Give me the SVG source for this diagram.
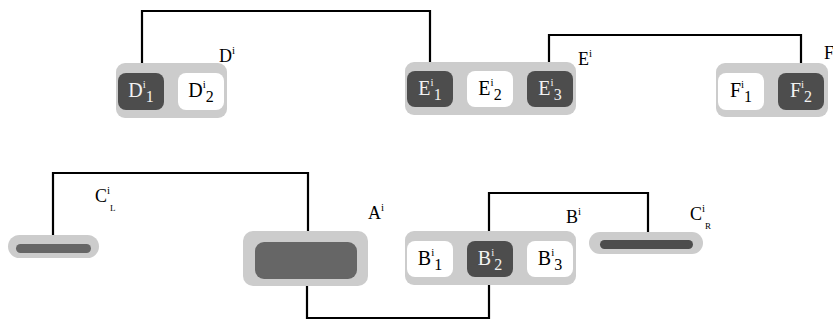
<svg xmlns="http://www.w3.org/2000/svg" width="833" height="320" viewBox="0 0 833 320">
<style>
.outer{fill:#cccccc}
.dark{fill:#4d4d4d}
.white{fill:#ffffff}
.mid{fill:#666666}
text{font-family:"Liberation Serif","Times New Roman",serif;font-size:18px;fill:#000}
.in{font-size:20px}
.lt{fill:#f2f2f2}
.ctr{text-anchor:middle}
.sup{font-size:11px}
.sub{font-size:16px}
.subs{font-size:9px}
.conn{fill:none;stroke:#000;stroke-width:2.2}
</style>
<rect width="833" height="320" fill="#fff"/>
<g id="connectors">
<path class="conn" d="M142 72 V11 H430 V72"/>
<path class="conn" d="M549 74 V35 H801 V75"/>
<path class="conn" d="M53 237 V173 H308 V242"/>
<path class="conn" d="M307 279 V318 H489 V268"/>
<path class="conn" d="M489 238 V193 H648 V241"/>
</g>
<g id="D">
<rect class="outer" x="116" y="63" width="111" height="55" rx="9"/>
<g id="D1"><rect class="dark" x="118" y="73" width="46" height="37" rx="8"/>
<text class="in ctr lt" x="141" y="97">D<tspan class="sup" dy="-9">i</tspan><tspan class="sub" dy="14">1</tspan></text></g>
<g id="D2"><rect class="white" x="178" y="73" width="46" height="37" rx="8"/>
<text class="in ctr" x="201" y="97">D<tspan class="sup" dy="-9">i</tspan><tspan class="sub" dy="14">2</tspan></text></g>
<text x="219" y="62">D<tspan class="sup" dy="-8">i</tspan></text>
</g>
<g id="E">
<rect class="outer" x="405" y="62" width="171" height="53" rx="9"/>
<g id="E1"><rect class="dark" x="407" y="71" width="46" height="36" rx="8"/>
<text class="in ctr lt" x="430" y="95">E<tspan class="sup" dy="-9">i</tspan><tspan class="sub" dy="14">1</tspan></text></g>
<g id="E2"><rect class="white" x="467" y="71" width="46" height="36" rx="8"/>
<text class="in ctr" x="490" y="95">E<tspan class="sup" dy="-9">i</tspan><tspan class="sub" dy="14">2</tspan></text></g>
<g id="E3"><rect class="dark" x="527" y="71" width="46" height="36" rx="8"/>
<text class="in ctr lt" x="550" y="95">E<tspan class="sup" dy="-9">i</tspan><tspan class="sub" dy="14">3</tspan></text></g>
<text x="578" y="65">E<tspan class="sup" dy="-8">i</tspan></text>
</g>
<g id="F">
<rect class="outer" x="716" y="63" width="112" height="54" rx="9"/>
<g id="F1"><rect class="white" x="718" y="73" width="46" height="37" rx="8"/>
<text class="in ctr" x="741" y="97">F<tspan class="sup" dy="-9">i</tspan><tspan class="sub" dy="14">1</tspan></text></g>
<g id="F2"><rect class="dark" x="778" y="73" width="46" height="37" rx="8"/>
<text class="in ctr lt" x="801" y="97">F<tspan class="sup" dy="-9">i</tspan><tspan class="sub" dy="14">2</tspan></text></g>
<text x="824" y="59">F<tspan class="sup" dy="-8">i</tspan></text>
</g>
<g id="CL">
<rect class="outer" x="8" y="235" width="91" height="23" rx="11.5"/>
<rect class="mid" x="16" y="244" width="75" height="9" rx="4.5"/>
<text x="95" y="202">C<tspan class="sup" dy="-8">i</tspan><tspan class="subs" dy="17">L</tspan></text>
</g>
<g id="A">
<rect class="outer" x="243" y="231" width="125" height="55" rx="10"/>
<rect class="mid" x="255" y="242" width="102" height="37" rx="9"/>
<text x="368" y="219">A<tspan class="sup" dy="-8">i</tspan></text>
</g>
<g id="B">
<rect class="outer" x="405" y="231" width="171" height="54" rx="9"/>
<g id="B1"><rect class="white" x="407" y="241" width="46" height="36" rx="8"/>
<text class="in ctr" x="430" y="265">B<tspan class="sup" dy="-9">i</tspan><tspan class="sub" dy="14">1</tspan></text></g>
<g id="B2"><rect class="dark" x="467" y="241" width="46" height="36" rx="8"/>
<text class="in ctr lt" x="490" y="265">B<tspan class="sup" dy="-9">i</tspan><tspan class="sub" dy="14">2</tspan></text></g>
<g id="B3"><rect class="white" x="527" y="241" width="46" height="36" rx="8"/>
<text class="in ctr" x="550" y="265">B<tspan class="sup" dy="-9">i</tspan><tspan class="sub" dy="14">3</tspan></text></g>
<text x="566" y="223">B<tspan class="sup" dy="-8">i</tspan></text>
</g>
<g id="CR">
<rect class="outer" x="589" y="232" width="114" height="22" rx="11"/>
<rect class="dark" x="600" y="240" width="93" height="9" rx="4.5"/>
<text x="690" y="220">C<tspan class="sup" dy="-8">i</tspan><tspan class="subs" dy="17">R</tspan></text>
</g>
</svg>
